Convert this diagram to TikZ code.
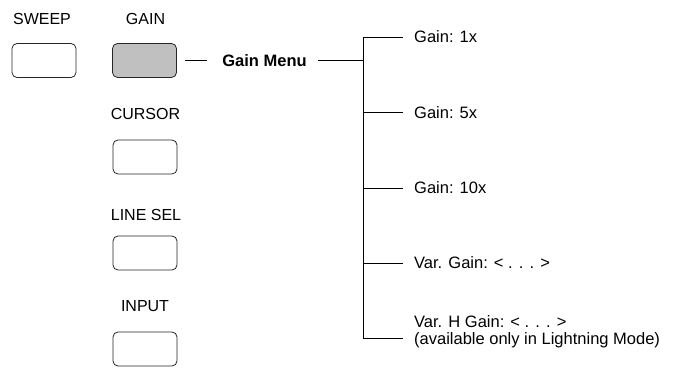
\documentclass[tikz,border=0pt]{standalone}
\usepackage{fontspec}
\setmainfont{Liberation Sans}
\begin{document}
\begin{tikzpicture}[x=1pt,y=-1pt,
  btn/.style={draw=black!85, line width=0.8pt, rounded corners=5pt, minimum width=64pt, minimum height=34pt, inner sep=0pt},
  lbl/.style={font=\fontsize{16}{18}\selectfont, inner sep=0pt, anchor=base},
  item/.style={font=\fontsize{16.5}{17}\selectfont, inner sep=0pt, anchor=base west, align=left},
  wire/.style={line width=0.9pt}]
\useasboundingbox (0,0) rectangle (673,374);
% buttons
\node[btn] (sweep) at (44,60.5) {};
\node[btn, fill={rgb,255:red,192;green,192;blue,192}] (gain) at (144.5,60.5) {};
\node[btn] (cursor) at (145,157) {};
\node[btn] (linesel) at (145,253) {};
\node[btn] (input) at (145,349) {};
% labels
\node[lbl] (lsweep) at (42,25) {SWEEP};
\node[lbl] (lgain) at (145.5,25) {GAIN};
\node[lbl] (lcursor) at (145.5,120) {CURSOR};
\node[lbl] (llinesel) at (146,221) {LINE SEL};
\node[lbl] (linput) at (145,312) {INPUT};
% menu
\node[font=\bfseries\fontsize{16.5}{18}\selectfont, inner sep=0pt, anchor=base] (menu) at (264.5,66.5) {Gain Menu};
\coordinate (m1) at (185,60.5);
\coordinate (m2) at (207,60.5);
\coordinate (m3) at (318,60.5);
\coordinate (tj) at (363,60.5);
\coordinate (t1) at (363,37);
\coordinate (t2) at (363,112.5);
\coordinate (t3) at (363,188);
\coordinate (t4) at (363,263);
\coordinate (t5) at (363,338.5);
\coordinate (e1) at (403,37);
\coordinate (e2) at (403,112.5);
\coordinate (e3) at (403,188);
\coordinate (e4) at (403,263);
\coordinate (e5) at (403,338.5);
\draw[wire] (m1) -- (m2);
\draw[wire] (m3) -- (tj);
\draw[wire] (t1) -- (t5);
\foreach \i in {1,...,5} \draw[wire] (t\i) -- (e\i);
\node[item] (g1) at (414,43) {Gain: 1x};
\node[item] (g2) at (414,118.5) {Gain: 5x};
\node[item] (g3) at (414,194) {Gain: 10x};
\node[item] (g4) at (414,269) {Var. Gain: {<} . . . {>}};
\node[item] (g5) at (414,344.5) {Var. H Gain: {<} . . . {>}\\(available only in Lightning Mode)};
\end{tikzpicture}
\end{document}
